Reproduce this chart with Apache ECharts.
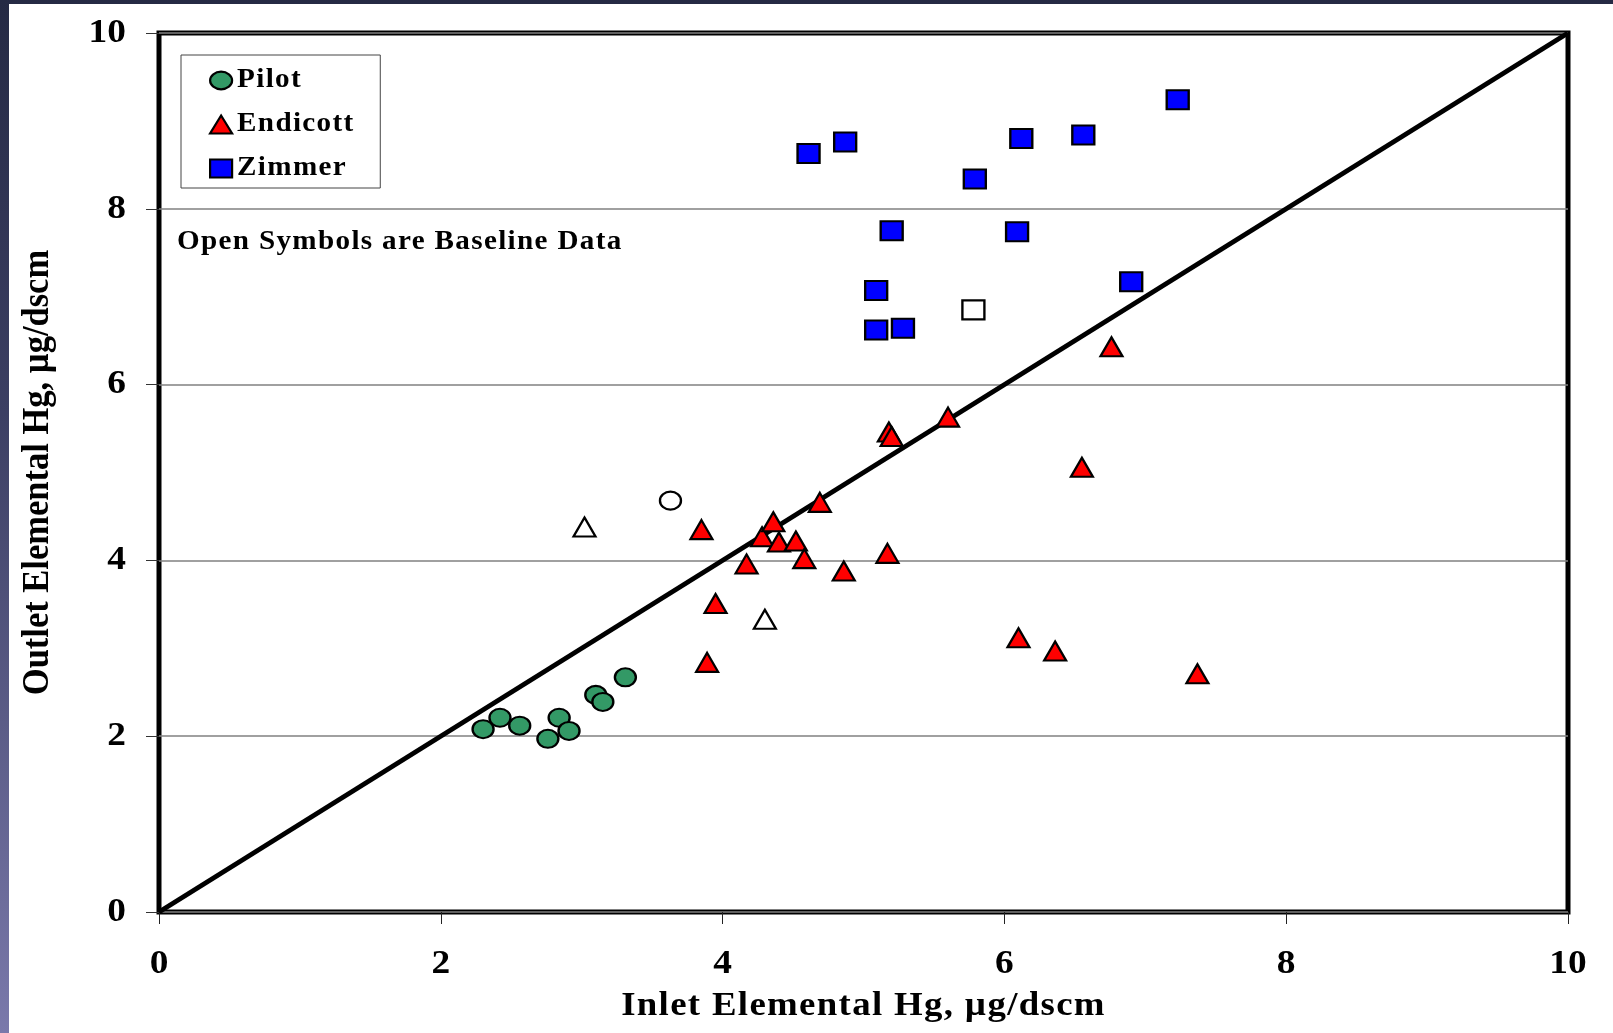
<!DOCTYPE html>
<html>
<head>
<meta charset="utf-8">
<script src="https://cdn.jsdelivr.net/npm/echarts@6/dist/echarts.min.js"></script>
<style>
  html, body { margin: 0; padding: 0; width: 1613px; height: 1033px; overflow: hidden; }
  body { background: linear-gradient(to bottom, #252a44 0%, #3c3f63 40%, #7a79ab 100%); position: relative; }
  #chart { position: absolute; left: 9px; top: 4px; width: 1604px; height: 1029px; background: #ffffff; }
</style>
</head>
<body>
<div id="chart"></div>
<script>
// ---- data ----
const axisTicks = [0, 2, 4, 6, 8, 10];

const pilotX = [2.30, 2.42, 2.56, 2.76, 2.84, 2.91, 3.10, 3.15, 3.31];
const pilotY = [2.08, 2.21, 2.12, 1.97, 2.21, 2.06, 2.47, 2.39, 2.67];
const pilotBaseX = [3.63];
const pilotBaseY = [4.68];

const endicottX = [3.85, 3.89, 3.95, 4.17, 4.28, 4.36, 4.40, 4.52, 4.58, 4.69, 4.86, 5.17, 5.18, 5.20, 5.60, 6.10, 6.36, 6.55, 6.76, 7.37];
const endicottY = [4.35, 2.84, 3.51, 3.96, 4.27, 4.44, 4.21, 4.22, 4.02, 4.66, 3.88, 4.08, 5.46, 5.41, 5.63, 3.12, 2.97, 5.06, 6.43, 2.71];
const endicottBaseX = [3.02, 4.30];
const endicottBaseY = [4.38, 3.33];

const zimmerX = [4.61, 4.87, 5.20, 5.09, 5.09, 5.28, 5.79, 6.12, 6.09, 6.56, 6.90, 7.23];
const zimmerY = [8.63, 8.76, 7.75, 7.07, 6.62, 6.64, 8.34, 8.80, 7.74, 8.84, 7.17, 9.24];
const zimmerBaseX = [5.78];
const zimmerBaseY = [6.85];

const lineX = [0, 10];
const lineY = [0, 10];

const legendNames = ['Pilot', 'Endicott', 'Zimmer'];
const noteText = 'Open Symbols are Baseline Data';
const xTitle = 'Inlet Elemental Hg, µg/dscm';
const yTitle = 'Outlet Elemental Hg, µg/dscm';

// ---- the original slide text is slightly stretched horizontally and letter-spaced ----
const TEXT_STRETCH_X = 1.1;
const TEXT_LETTER_SPACING = 1.2;
(function () {
  const proto = CanvasRenderingContext2D.prototype;
  const orig = proto.fillText;
  const hasLS = 'letterSpacing' in proto;
  proto.fillText = function (text, x, y, maxW) {
    const m = this.getTransform();
    const px = m.a * x + m.c * y + m.e;
    const s = TEXT_STRETCH_X;
    const horizontal = Math.abs(m.b) < 1e-6;
    const numeric = /^[0-9.\-]+$/.test(String(text));
    let prevLS;
    if (hasLS) {
      prevLS = this.letterSpacing;
      this.letterSpacing = (horizontal && !numeric ? TEXT_LETTER_SPACING : 0) + 'px';
    }
    this.setTransform(m.a * s, m.b, m.c * s, m.d, s * m.e + (1 - s) * px, m.f);
    const r = maxW === undefined ? orig.call(this, text, x, y) : orig.call(this, text, x, y, maxW);
    this.setTransform(m);
    if (hasLS) this.letterSpacing = prevLS;
    return r;
  };
})();

const zip = (xs, ys) => xs.map((x, i) => [x, ys[i]]);

const FONT = "'Liberation Serif', 'Times New Roman', serif";
const ELLIPSE = 'path://M0,8 A10,8 0 1,1 20,8 A10,8 0 1,1 0,8 Z';

const GREEN = '#339966', RED = '#ff0000', BLUE = '#0000ff';
const BW = 2.2;

function pts(name, xs, ys, symbol, size, fill) {
  return {
    name: name, type: 'scatter', data: zip(xs, ys),
    symbol: symbol, symbolSize: size, z: 5,
    itemStyle: { color: fill, borderColor: '#000', borderWidth: BW, opacity: 1 },
    emphasis: { disabled: true }
  };
}

const chart = echarts.init(document.getElementById('chart'), null, { renderer: 'canvas' });
chart.setOption({
  animation: false,
  backgroundColor: '#ffffff',
  title: {
    text: noteText, left: 168, top: 225, padding: 0,
    textStyle: { fontFamily: FONT, fontWeight: 'bold', fontSize: 26.5, color: '#000', lineHeight: 26.5 }
  },
  legend: {
    orient: 'vertical', left: 172, top: 51,
    padding: [12, 46, 6, 28],
    itemWidth: 22, itemHeight: 18, itemGap: 17,
    borderColor: '#444', borderWidth: 1,
    selectedMode: false,
    textStyle: { fontFamily: FONT, fontWeight: 'bold', fontSize: 26.5, color: '#000', lineHeight: 26.5 },
    data: [
      { name: legendNames[0], icon: ELLIPSE, itemStyle: { color: GREEN, borderColor: '#000', borderWidth: BW } },
      { name: legendNames[1], icon: 'triangle', itemStyle: { color: RED, borderColor: '#000', borderWidth: BW } },
      { name: legendNames[2], icon: 'rect', itemStyle: { color: BLUE, borderColor: '#000', borderWidth: BW } }
    ]
  },
  grid: {
    left: 150, right: 45, top: 29, bottom: 121,
    show: true, borderColor: '#000', borderWidth: 5, backgroundColor: 'transparent'
  },
  xAxis: {
    type: 'value', min: axisTicks[0], max: axisTicks[axisTicks.length - 1], interval: axisTicks[1] - axisTicks[0],
    name: xTitle, nameLocation: 'middle', nameGap: 77,
    nameTextStyle: { fontFamily: FONT, fontWeight: 'bold', fontSize: 33.5, color: '#000' },
    axisLine: { show: false },
    axisTick: { show: true, inside: false, length: 12, lineStyle: { color: '#222', width: 1 } },
    axisLabel: { margin: 35, fontFamily: FONT, fontWeight: 'bold', fontSize: 34, color: '#000' },
    splitLine: { show: false }
  },
  yAxis: {
    type: 'value', min: axisTicks[0], max: axisTicks[axisTicks.length - 1], interval: axisTicks[1] - axisTicks[0],
    name: yTitle, nameLocation: 'middle', nameGap: 103,
    nameTextStyle: { fontFamily: FONT, fontWeight: 'bold', fontSize: 34.5, color: '#000' },
    axisLine: { show: false },
    axisTick: { show: true, inside: false, length: 13, lineStyle: { color: '#333', width: 1 } },
    axisLabel: { margin: 33, fontFamily: FONT, fontWeight: 'bold', fontSize: 34, color: '#000' },
    splitLine: { show: true, lineStyle: { color: '#808080', width: 1.5 } }
  },
  series: [
    {
      name: '1:1', type: 'line', data: zip(lineX, lineY), symbol: 'none', z: 3,
      lineStyle: { color: '#000', width: 5 }, emphasis: { disabled: true }, silent: true
    },
    pts(legendNames[0], pilotX, pilotY, ELLIPSE, [21, 18], GREEN),
    pts('Pilot baseline', pilotBaseX, pilotBaseY, ELLIPSE, [21, 18], '#fff'),
    pts(legendNames[1], endicottX, endicottY, 'triangle', [22, 19], RED),
    pts('Endicott baseline', endicottBaseX, endicottBaseY, 'triangle', [22, 19], '#fff'),
    pts(legendNames[2], zimmerX, zimmerY, 'rect', [22, 19], BLUE),
    pts('Zimmer baseline', zimmerBaseX, zimmerBaseY, 'rect', [22, 19], '#fff')
  ]
});
</script>
</body>
</html>
